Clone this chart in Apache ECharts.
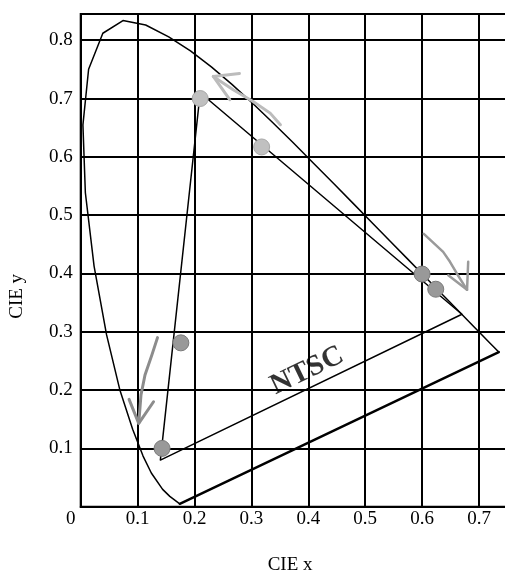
<!DOCTYPE html>
<html>
<head>
<meta charset="utf-8">
<script src="https://cdn.jsdelivr.net/npm/echarts@6/dist/echarts.min.js"></script>
<style>html,body{margin:0;padding:0;background:#fff}#c{width:505px;height:573px}</style>
</head>
<body>
<div id="c"></div>
<script>
// Spectral locus (CIE 1931 x,y)
const locus = [
  [0.1741,0.0050],[0.1566,0.0177],[0.1440,0.0297],[0.1241,0.0578],[0.1096,0.0868],
  [0.0913,0.1327],[0.0687,0.2007],[0.0454,0.2950],[0.0235,0.4127],[0.0082,0.5384],
  [0.0039,0.6548],[0.0139,0.7502],[0.0389,0.8120],[0.0743,0.8338],[0.1142,0.8262],
  [0.1547,0.8059],[0.1929,0.7816],[0.2296,0.7543],[0.2658,0.7243],[0.3016,0.6923],
  [0.3373,0.6589],[0.3731,0.6245],[0.4087,0.5896],[0.4441,0.5547],[0.4788,0.5202],
  [0.5125,0.4866],[0.5448,0.4544],[0.5752,0.4242],[0.6029,0.3965],[0.6270,0.3725],
  [0.6482,0.3514],[0.6658,0.3340],[0.6915,0.3083],[0.7079,0.2920],[0.7190,0.2809],
  [0.7260,0.2740],[0.7347,0.2653]
];
const purpleLine = [[0.1741,0.0050],[0.7347,0.2653]];
const ntscTriangle = [[0.67,0.33],[0.21,0.71],[0.14,0.08],[0.67,0.33]];
const lightPoints = [[0.21,0.70],[0.318,0.617]];
const darkPoints = [[0.600,0.399],[0.624,0.373],[0.176,0.281],[0.143,0.100]];
const arrowAShaft = [[0.233,0.738],[0.268,0.715],[0.303,0.695],[0.333,0.675],[0.351,0.655]];
const arrowAHead = [[0.279,0.743],[0.233,0.738],[0.262,0.698]];
const arrowBShaft = [[0.603,0.468],[0.637,0.437],[0.649,0.420],[0.661,0.400],[0.679,0.372]];
const arrowBHead = [[0.681,0.420],[0.679,0.372],[0.646,0.397]];
const arrowCShaft = [[0.135,0.290],[0.125,0.260],[0.113,0.226],[0.106,0.192],[0.102,0.143]];
const arrowCHead = [[0.085,0.184],[0.102,0.143],[0.128,0.180]];
const ntscLabel = [[0.398,0.233]];
const xTicks = ['0','0.1','0.2','0.3','0.4','0.5','0.6','0.7'];
const yTicks = ['0','0.1','0.2','0.3','0.4','0.5','0.6','0.7','0.8'];

const serif = 'Liberation Serif';
function lineSeries(data, color, width) {
  return {type:'line', data:data, showSymbol:false, symbol:'none', silent:true,
    lineStyle:{color:color, width:width, cap:'round', join:'round'}, z:3, animation:false};
}
const chart = echarts.init(document.getElementById('c'), null, {renderer:'canvas'});
chart.setOption({
  animation:false,
  backgroundColor:'#fff',
  grid:{left:80.7, top:14, width:426.75, height:492.7, show:true, borderColor:'#000', borderWidth:2,
    containLabel:false, outerBoundsMode:'none'},
  xAxis:{type:'value', min:0, max:0.75, interval:0.1,
    name:'CIE x', nameLocation:'middle', nameGap:49,
    nameTextStyle:{fontFamily:serif, fontSize:19, color:'#000', padding:[0,8,0,0]},
    axisLine:{show:true, lineStyle:{color:'#000', width:2}},
    axisTick:{show:false},
    splitLine:{show:true, lineStyle:{color:'#000', width:2}},
    axisLabel:{showMaxLabel:false, margin:3, color:'#000', fontFamily:serif, fontSize:19,
      formatter:function(v){const i=Math.round(v*10); if(Math.abs(v*10-i)>1e-6) return ''; return i===0?'{z|'+xTicks[0]+'}':xTicks[i];},
      rich:{z:{fontFamily:serif, fontSize:19, color:'#000', padding:[0,20,0,0]}}}
  },
  yAxis:{type:'value', min:0, max:0.845, interval:0.1,
    name:'CIE y', nameLocation:'middle', nameGap:54, nameRotate:90,
    nameTextStyle:{fontFamily:serif, fontSize:19, color:'#000', padding:[0,72,0,0]},
    axisLine:{show:true, lineStyle:{color:'#000', width:2}},
    axisTick:{show:false},
    splitLine:{show:true, lineStyle:{color:'#000', width:2}},
    axisLabel:{showMinLabel:false, showMaxLabel:false, margin:8, color:'#000', fontFamily:serif, fontSize:19,
      formatter:function(v){const i=Math.round(v*10); if(Math.abs(v*10-i)>1e-6) return ''; return yTicks[i];}}
  },
  series:[
    lineSeries(locus,'#000',1.5),
    lineSeries(purpleLine,'#000',2.5),
    lineSeries(ntscTriangle,'#000',1.5),
    lineSeries(arrowAShaft,'#bcbcbc',3),
    lineSeries(arrowAHead,'#bcbcbc',3),
    lineSeries(arrowBShaft,'#9a9a9a',2.5),
    lineSeries(arrowBHead,'#9a9a9a',2.5),
    lineSeries(arrowCShaft,'#8c8c8c',3),
    lineSeries(arrowCHead,'#8c8c8c',3),
    {type:'scatter', data:lightPoints, symbolSize:16, silent:true, z:5,
      itemStyle:{color:'#c0c0c0', borderColor:'#a8a8a8', borderWidth:1, opacity:1}},
    {type:'scatter', data:darkPoints, symbolSize:16, silent:true, z:5,
      itemStyle:{color:'#999999', borderColor:'#7a7a7a', borderWidth:1, opacity:1}},
    {type:'scatter', data:ntscLabel, symbolSize:0, silent:true, z:6,
      label:{show:true, position:'inside', formatter:'NTSC', rotate:25.8,
        fontFamily:serif, fontWeight:'bold', fontSize:29, color:'#000'}}
  ]
});
</script>
</body>
</html>
